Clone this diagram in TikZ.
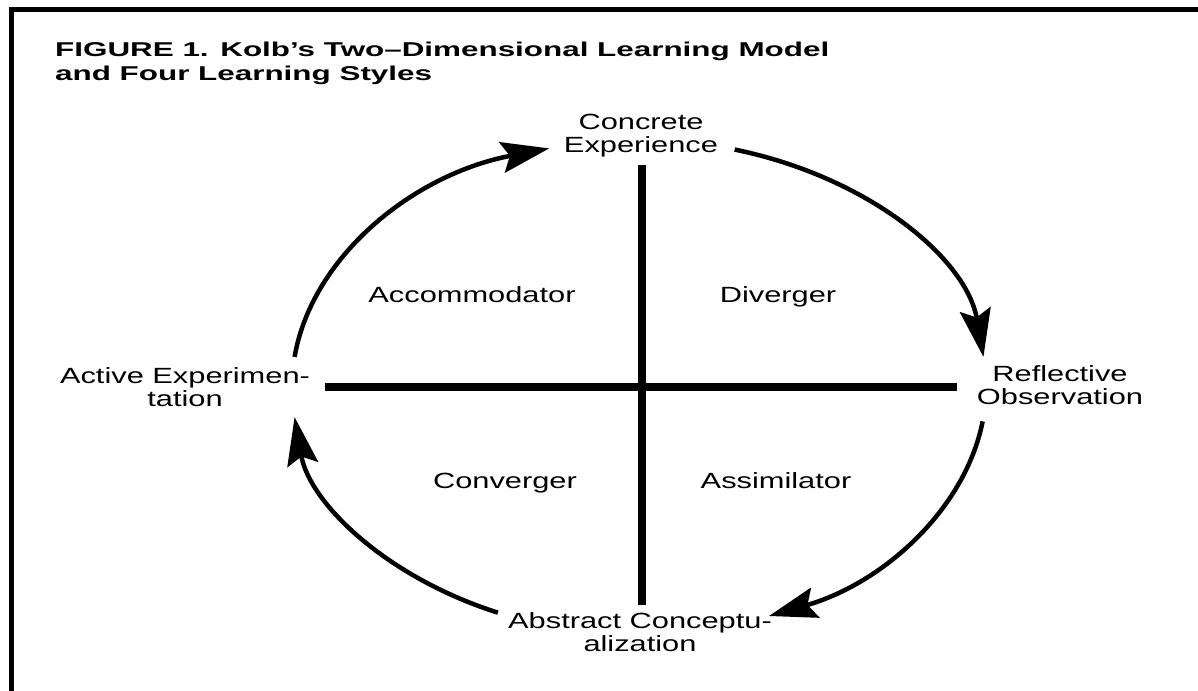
\documentclass[tikz,border=0pt]{standalone}
\usepackage{fontspec}
\setmainfont{Liberation Sans}[FakeStretch=1.4]
\newfontfamily\titlefont{Liberation Sans}[FakeStretch=1.57,Ligatures=TeX]
\usetikzlibrary{arrows.meta}
\begin{document}
\begin{tikzpicture}[x=1pt,y=1pt,
  label/.style={font=\fontsize{22}{23}\selectfont, align=center, anchor=base, inner sep=0pt},
  style/.style={font=\fontsize{22}{23}\selectfont, anchor=base, inner sep=0pt},
  axis/.style={line width=8pt},
  cycle/.style={line width=4.5pt, -{Stealth[length=48pt,width=31pt,inset=8pt]}},
  frame/.style={line width=5pt}]
\useasboundingbox (0,0) rectangle (1198,690);
\begin{scope}
\clip (0,0) rectangle (1198,690);
\draw[frame] (11,-10) -- (11,680.5) -- (1210,680.5);
\end{scope}

% title (anchored at the baseline of its last line)
\node[anchor=base west, align=left, inner sep=0pt,
      font=\titlefont\fontsize{20}{24}\selectfont\bfseries] (title) at (55,609)
  {FIGURE 1. Kolb’s Two–Dimensional Learning Model\\and Four Learning Styles};

% the four stages
\node[label] (ce) at (641,537) {Concrete\\Experience};
\node[label] (ro) at (1060,285) {Reflective\\Observation};
\node[label] (ac) at (640,38) {Abstract Conceptu-\\alization};
\node[label] (ae) at (185,283) {Active Experimen-\\tation};

% the four learning styles
\node[style] (acc) at (472,387) {Accommodator};
\node[style] (div) at (778,387) {Diverger};
\node[style] (con) at (505,201) {Converger};
\node[style] (ass) at (776,201) {Assimilator};

% axes
\coordinate (vtop) at (642,525);
\coordinate (vbot) at (642,85);
\coordinate (hl) at (325,303);
\coordinate (hr) at (957,303);
\draw[axis] (vtop) -- (vbot);
\draw[axis] (hl) -- (hr);

% learning cycle
\coordinate (O) at (639,303);
\draw[cycle] (O) ++(173:347 and 247) arc[start angle=173, end angle=105, x radius=347, y radius=247];
\draw[cycle] (O) ++(74:347 and 247) arc[start angle=74, end angle=7, x radius=347, y radius=247];
\draw[cycle] (O) ++(-8:347 and 247) arc[start angle=-8, end angle=-68, x radius=347, y radius=247];
\draw[cycle] (O) ++(-114:347 and 247) arc[start angle=-114, end angle=-173, x radius=347, y radius=247];
\end{tikzpicture}
\end{document}
